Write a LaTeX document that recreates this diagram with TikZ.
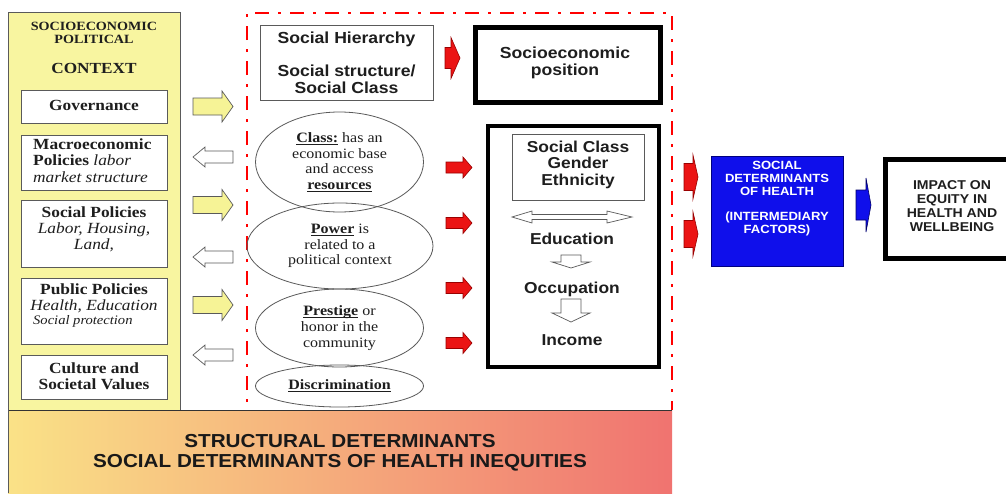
\documentclass[tikz,border=0pt]{standalone}
\usepackage{fontspec}
\newfontfamily\ser[FakeStretch=1.12]{Liberation Serif}
\newfontfamily\san[FakeStretch=1.1]{Liberation Sans}
\usetikzlibrary{shapes.geometric}
\definecolor{ctxyellow}{RGB}{248,245,160}
\definecolor{arryellow}{RGB}{246,243,150}
\definecolor{sdhblue}{RGB}{15,15,235}
\definecolor{bannerL}{RGB}{250,226,135}
\definecolor{bannerM}{RGB}{246,186,125}
\definecolor{bannerR}{RGB}{240,115,112}
\definecolor{txt}{RGB}{30,30,30}
\definecolor{edge}{RGB}{90,90,90}
\definecolor{arrred}{RGB}{235,20,20}
\newcommand\ulb[1]{\underline{\raisebox{0pt}[\height][0pt]{\textbf{#1}}}}
% horizontal block arrow: style, tail x, centre y, tip x, half shaft, half head, signed head length
\newcommand\hblock[7]{%
  \draw[#1] ({#2},{#3-(#5)}) -- ({#4-(#7)},{#3-(#5)}) -- ({#4-(#7)},{#3-(#6)}) -- ({#4},{#3})
    -- ({#4-(#7)},{#3+(#6)}) -- ({#4-(#7)},{#3+(#5)}) -- ({#2},{#3+(#5)}) -- cycle;}
% vertical block arrow: style, centre x, tail y, tip y, half shaft, half head, head length
\newcommand\vblock[7]{%
  \draw[#1] ({#2-(#5)},{#3}) -- ({#2-(#5)},{#4-(#7)}) -- ({#2-(#6)},{#4-(#7)}) -- ({#2},{#4})
    -- ({#2+(#6)},{#4-(#7)}) -- ({#2+(#5)},{#4-(#7)}) -- ({#2+(#5)},{#3}) -- cycle;}
\begin{document}
\begin{tikzpicture}[x=1pt,y=-1pt,
  ctx/.style={draw=edge, line width=0.8pt, fill=ctxyellow},
  lbox/.style={draw=edge, line width=0.8pt, fill=white, anchor=north west},
  ltext/.style={text=txt, align=center, inner sep=0pt, font=\ser\bfseries\fontsize{15.5}{16.3}\selectfont},
  ell/.style={draw=edge, line width=0.8pt, ellipse, inner sep=0pt, text=txt, align=center,
    font=\ser\fontsize{14.3}{15.6}\selectfont},
  sbox/.style={draw=edge, line width=0.8pt, fill=white, anchor=north west},
  thick box/.style={draw=black, line width=5pt, fill=white},
  stext/.style={text=txt, align=center, inner sep=0pt, font=\san\bfseries\fontsize{15.8}{16.5}\selectfont},
  yarr/.style={draw=edge, line width=0.7pt, fill=arryellow},
  warr/.style={draw=edge, line width=0.7pt, fill=white},
  rarr/.style={draw=red!60!black, line width=0.6pt, fill=arrred},
  barr/.style={draw=blue!40!black, line width=0.6pt, fill=sdhblue},
  reddash/.style={draw=red, line width=2.6pt, dash pattern=on 14pt off 9pt on 3pt off 9pt}
]
\useasboundingbox (0,0) rectangle (1006,493);
\clip (0,0) rectangle (1006,493);
\fill[white] (0,0) rectangle (1006,493);

% ---------- socioeconomic political context ----------
\draw[ctx] (8,12) rectangle (180,412);
\node[ltext, font=\ser\bfseries\fontsize{12.6}{13}\selectfont] (ctxtitle) at (94,32.5) {SOCIOECONOMIC\\POLITICAL};
\node[ltext, font=\ser\bfseries\fontsize{15.4}{16}\selectfont] (ctxhead) at (94,68.5) {CONTEXT};

\node[lbox, minimum width=146, minimum height=33] (gov) at (21,90) {};
\node[ltext] (govt) at (94,105) {Governance};

\node[lbox, minimum width=146, minimum height=55] (macro) at (21,135) {};
\node[ltext, align=left, anchor=north west] (macrot) at (33,138.5) {Macroeconomic\\Policies {\mdseries\itshape labor}\\{\mdseries\itshape market structure}};

\node[lbox, minimum width=146, minimum height=67] (socpol) at (21,200) {};
\node[ltext] (socpolt) at (94,229.5) {Social Policies\\{\mdseries\itshape Labor, Housing,}\\{\mdseries\itshape Land,}};

\node[lbox, minimum width=146, minimum height=66] (pubpol) at (21,278) {};
\node[ltext] (pubpolt) at (94,298.5) {Public Policies\\{\mdseries\itshape Health, Education}};
\node[ltext, anchor=west, font=\ser\itshape\fontsize{13}{14}\selectfont] (pubpolt2) at (33,321) {Social protection};

\node[lbox, minimum width=146, minimum height=44] (cult) at (21,355) {};
\node[ltext] (cultt) at (94,376) {Culture and\\Societal Values};

% ---------- arrows between context and structural box ----------
\hblock{yarr}{193}{106.5}{233}{8.5}{15.5}{11}
\hblock{warr}{233}{157}{193}{6}{10}{-12}
\hblock{yarr}{193}{205}{233}{8.5}{15.5}{11}
\hblock{warr}{233}{257}{193}{6}{10}{-12}
\hblock{yarr}{193}{305}{233}{8.5}{15.5}{11}
\hblock{warr}{233}{355}{193}{6}{10}{-12}

% ---------- structural determinants box ----------
\draw[reddash] (247,425) -- (247,13) -- (672,13) -- (672,410);

\node[sbox, minimum width=173, minimum height=75] (hier) at (260,25) {};
\node[stext, font=\san\bfseries\fontsize{16}{16.5}\selectfont] (hiert) at (346.5,62.5) {Social Hierarchy\\[17pt]Social structure/\\Social Class};

\hblock{rarr}{445}{58}{460}{10.5}{20.5}{9}

\node[thick box, minimum width=185, minimum height=75, anchor=north west] (sep) at (472.5,24.5) {};
\node[stext, font=\san\bfseries\fontsize{16}{16.5}\selectfont] (sept) at (565,63) {Socioeconomic\\position};

\node[ell, minimum width=168, minimum height=100] (class) at (339.5,162) {\ulb{Class:} has an\\economic base\\and access\\\ulb{resources}};
\node[ell, minimum width=186, minimum height=86] (power) at (340,246) {\ulb{Power} is\\related to a\\political context};
\node[ell, minimum width=168, minimum height=78] (prestige) at (339.5,328) {\ulb{Prestige} or\\honor in the\\community};
\node[ell, minimum width=168, minimum height=42] (discr) at (339.5,386) {\ulb{Discrimination}};

\hblock{rarr}{446}{167.5}{472}{5.5}{10.5}{9}
\hblock{rarr}{446}{223}{472}{5.5}{10.5}{9}
\hblock{rarr}{446}{288}{472}{5.5}{10.5}{9}
\hblock{rarr}{446}{343}{472}{5.5}{10.5}{9}

\node[thick box, line width=4pt, minimum width=171, minimum height=241, anchor=north west] (scbox) at (486,124) {};
\node[sbox, minimum width=132, minimum height=66] (scinner) at (512,134) {};
\node[stext] (scinnert) at (578,164.5) {Social Class\\Gender\\Ethnicity};
\draw[warr] (512,217) -- (532,211) -- (532,214.5) -- (607,214.5) -- (607,211) -- (632,217)
  -- (607,223) -- (607,219.5) -- (532,219.5) -- (532,223) -- cycle;
\node[stext] (edu) at (572,239) {Education};
\vblock{warr}{571}{255}{268}{10}{19}{6}
\node[stext] (occ) at (572,289) {Occupation};
\vblock{warr}{571}{299}{322}{10}{19}{9}
\node[stext] (inc) at (572,340.5) {Income};

% ---------- intermediary determinants ----------
\hblock{rarr}{684}{177}{698}{13.5}{22}{5}
\hblock{rarr}{684}{234}{698}{13.5}{22}{5}

\node[draw=blue!50!black, line width=0.6pt, fill=sdhblue, minimum width=132, minimum height=110, anchor=north west] (sdh) at (711,156) {};
\node[text=white, align=center, inner sep=0pt, font=\san\bfseries\fontsize{11.9}{13}\selectfont] (sdht) at (777,199)
  {SOCIAL\\DETERMINANTS\\OF HEALTH\\[12pt](INTERMEDIARY\\FACTORS)};

\hblock{barr}{856}{205}{871}{15}{27}{5}

\node[thick box, minimum width=140, minimum height=99, anchor=north west] (impact) at (882.5,156.5) {};
\node[text=txt, align=center, inner sep=0pt, font=\san\bfseries\fontsize{12.8}{14}\selectfont] (impactt) at (952,206)
  {IMPACT ON\\EQUITY IN\\HEALTH AND\\WELLBEING};

% ---------- bottom banner ----------
\shade[left color=bannerL, middle color=bannerM, right color=bannerR] (8,410) rectangle (672,493);
\draw[black!80, line width=0.8pt] (8,410) -- (672,410);
\draw[edge, line width=0.8pt] (8,410) -- (8,493);
\node[text=black!90, align=center, inner sep=0pt, font=\san\bfseries\fontsize{18.8}{19.5}\selectfont] (banner) at (340,453)
  {STRUCTURAL DETERMINANTS\\SOCIAL DETERMINANTS OF HEALTH INEQUITIES};
\end{tikzpicture}
\end{document}
